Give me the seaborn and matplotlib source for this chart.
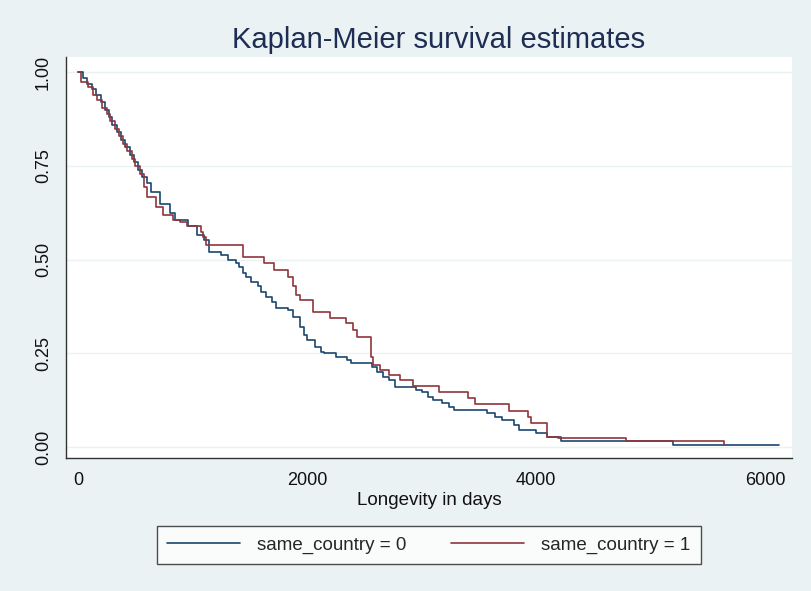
import matplotlib
matplotlib.use("Agg")
import matplotlib.pyplot as plt
import seaborn as sns
import pandas as pd

# Kaplan-Meier step estimates (time in days, survival)
t_group0 = [0, 45, 80, 120, 160, 200, 235, 270, 300, 340, 375, 410, 450, 490, 520,
            560, 600, 640, 720, 800, 850, 960, 1040, 1100, 1140, 1250, 1310, 1380,
            1410, 1440, 1470, 1510, 1570, 1600, 1640, 1690, 1730, 1830, 1880, 1940,
            1970, 2000, 2070, 2120, 2150, 2250, 2350, 2380, 2570, 2610, 2660, 2720,
            2770, 2950, 3000, 3060, 3100, 3180, 3240, 3280, 3570, 3640, 3700, 3810,
            3850, 4000, 4100, 4220, 5200, 6120]
s_group0 = [1.0, 0.985, 0.97, 0.955, 0.94, 0.92, 0.90, 0.88, 0.86, 0.84, 0.82, 0.80,
            0.78, 0.76, 0.74, 0.72, 0.706, 0.68, 0.65, 0.626, 0.607, 0.59, 0.567,
            0.553, 0.52, 0.513, 0.50, 0.492, 0.48, 0.465, 0.455, 0.44, 0.43, 0.415,
            0.40, 0.388, 0.372, 0.367, 0.348, 0.32, 0.30, 0.286, 0.267, 0.254, 0.25,
            0.24, 0.233, 0.225, 0.214, 0.20, 0.187, 0.18, 0.16, 0.152, 0.147, 0.134,
            0.126, 0.118, 0.107, 0.099, 0.091, 0.08, 0.072, 0.059, 0.045, 0.037,
            0.027, 0.016, 0.007, 0.007]

t_group1 = [0, 30, 90, 130, 170, 210, 250, 280, 320, 360, 390, 430, 470, 500, 540,
            580, 600, 680, 740, 830, 890, 950, 1070, 1090, 1120, 1444, 1620, 1710,
            1830, 1880, 1900, 1940, 2050, 2200, 2340, 2400, 2440, 2555, 2580, 2640,
            2720, 2810, 2930, 3150, 3410, 3470, 3760, 3930, 3955, 4100, 4190, 4790,
            5640]
s_group1 = [1.0, 0.975, 0.96, 0.94, 0.925, 0.905, 0.89, 0.87, 0.85, 0.83, 0.81, 0.79,
            0.77, 0.75, 0.73, 0.695, 0.668, 0.64, 0.62, 0.607, 0.60, 0.59, 0.575,
            0.56, 0.54, 0.508, 0.492, 0.473, 0.455, 0.43, 0.406, 0.393, 0.36, 0.345,
            0.33, 0.313, 0.295, 0.24, 0.22, 0.206, 0.193, 0.18, 0.164, 0.147, 0.13,
            0.115, 0.097, 0.08, 0.065, 0.027, 0.024, 0.016, 0.007]

labels = ["same_country = 0", "same_country = 1"]
colors = ["#1A476F", "#90353B"]
x_ticks = [0, 2000, 4000, 6000]
y_ticks = [0.0, 0.25, 0.5, 0.75, 1.0]

sns.set_style("white")
plt.rcParams["font.family"] = ["Liberation Sans", "DejaVu Sans"]

bg = "#EAF2F3"
fig = plt.figure(figsize=(8.12, 5.91), dpi=100, facecolor=bg)
ax = fig.add_axes([66 / 812, 1 - 458 / 591, (792 - 66) / 812, (458 - 57) / 591])
ax.set_facecolor("white")

for t, s, lab, col in zip([t_group0, t_group1], [s_group0, s_group1], labels, colors):
    df = pd.DataFrame({"time": t, "survival": s})
    sns.lineplot(data=df, x="time", y="survival", ax=ax, color=col, label=lab,
                 drawstyle="steps-post", estimator=None, linewidth=1.2, legend=False)

ax.set_xlim(-105, 6236)
ax.set_ylim(-0.029, 1.041)
ax.set_xticks(x_ticks)
ax.set_xticklabels([str(v) for v in x_ticks])
ax.set_yticks(y_ticks)
ax.set_yticklabels([f"{v:.2f}" for v in y_ticks], rotation=90, va="center")
for v in y_ticks:
    ax.axhline(v, color=bg, linewidth=1.0, zorder=0)

for side in ["top", "right"]:
    ax.spines[side].set_visible(False)
for side in ["left", "bottom"]:
    ax.spines[side].set_color("#333333")
    ax.spines[side].set_linewidth(1.0)
ax.tick_params(axis="both", direction="out", length=7, width=1, color="#333333",
               labelsize=13, labelcolor="#111111", pad=3)
ax.set_xlabel("Longevity in days", fontsize=13.5, color="#111111", labelpad=2)
ax.set_ylabel("")

fig.text(0.54, 1 - 40 / 591, "Kaplan-Meier survival estimates", ha="center", va="center",
         fontsize=21, color="#1E2D53")

handles, labs = ax.get_legend_handles_labels()
leg = fig.legend(handles, labs, loc="center", bbox_to_anchor=(0.528, 1 - 545 / 591),
                 ncol=2, frameon=True, fancybox=False, fontsize=13.5, handlelength=3.9,
                 handletextpad=0.9, columnspacing=2.4, borderpad=0.55, edgecolor="#222222")
leg.get_frame().set_linewidth(1.0)

fig.savefig("out.png", dpi=100, facecolor=bg)
